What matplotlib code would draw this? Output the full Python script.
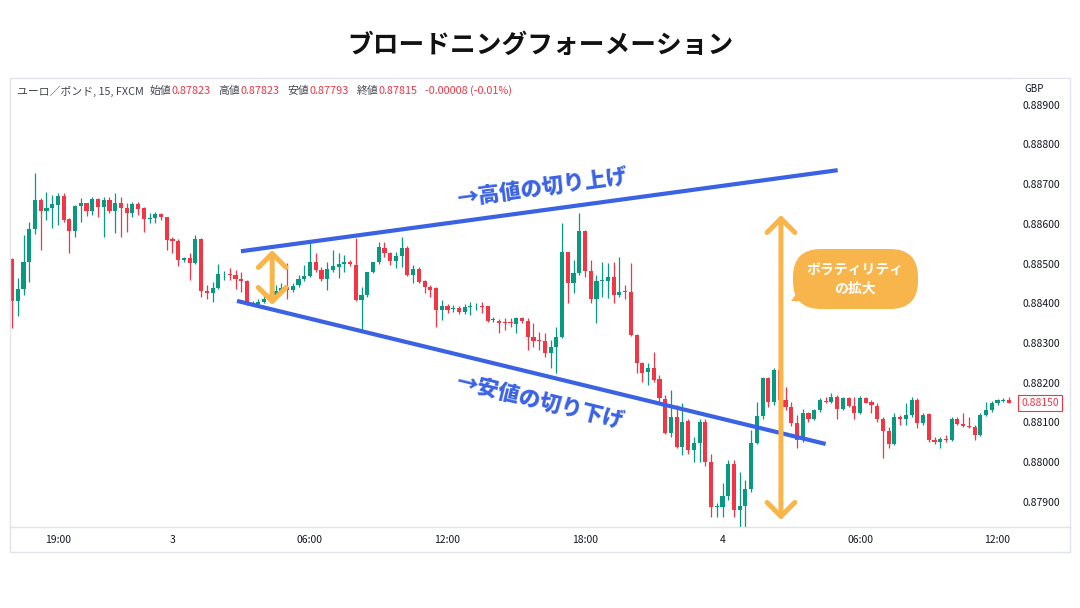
import numpy as np
import matplotlib.pyplot as plt
from matplotlib.patches import Rectangle, FancyBboxPatch, Polygon, FancyArrowPatch
from matplotlib.lines import Line2D
from matplotlib.transforms import Affine2D

plt.rcParams['font.family'] = ['Noto Sans CJK JP', 'DejaVu Sans']

# EUR/GBP 15 min candles, from 17:00 (day 2) to 12:30 (day 4)
opens = [0.88511, 0.88406, 0.88435, 0.88505, 0.88586, 0.88660, 0.88633, 0.88641, 0.88647, 0.88670,
         0.88611, 0.88583, 0.88645, 0.88652, 0.88632, 0.88662, 0.88643, 0.88660, 0.88633, 0.88653,
         0.88639, 0.88626, 0.88649, 0.88639, 0.88611, 0.88615, 0.88624, 0.88616, 0.88561, 0.88557,
         0.88509, 0.88513, 0.88502, 0.88563, 0.88431, 0.88427, 0.88438, 0.88473, 0.88474, 0.88472,
         0.88460, 0.88457, 0.88397, 0.88398, 0.88404, 0.88412, 0.88420, 0.88432, 0.88440, 0.88434,
         0.88446, 0.88460, 0.88469, 0.88505, 0.88484, 0.88461, 0.88484, 0.88492, 0.88498, 0.88503,
         0.88496, 0.88408, 0.88421, 0.88478, 0.88503, 0.88540, 0.88527, 0.88507, 0.88519, 0.88540,
         0.88471, 0.88486, 0.88455, 0.88440, 0.88438, 0.88383, 0.88393, 0.88385, 0.88389, 0.88377,
         0.88390, 0.88392, 0.88394, 0.88392, 0.88357, 0.88356, 0.88354, 0.88354, 0.88348, 0.88362,
         0.88356, 0.88314, 0.88308, 0.88304, 0.88276, 0.88291, 0.88316, 0.88528, 0.88452, 0.88476,
         0.88582, 0.88482, 0.88410, 0.88455, 0.88457, 0.88467, 0.88421, 0.88432, 0.88429, 0.88320,
         0.88249, 0.88228, 0.88236, 0.88209, 0.88159, 0.88073, 0.88115, 0.88039, 0.88105, 0.88031,
         0.88049, 0.88100, 0.88000, 0.87887, 0.87888, 0.87915, 0.87995, 0.87880, 0.87890, 0.87932,
         0.88049, 0.88117, 0.88211, 0.88152, 0.88232, 0.88156, 0.88140, 0.88098, 0.88056, 0.88123,
         0.88110, 0.88131, 0.88155, 0.88151, 0.88165, 0.88133, 0.88161, 0.88142, 0.88123, 0.88161,
         0.88151, 0.88142, 0.88110, 0.88079, 0.88047, 0.88113, 0.88110, 0.88119, 0.88156, 0.88098,
         0.88121, 0.88057, 0.88052, 0.88058, 0.88056, 0.88108, 0.88096, 0.88092, 0.88089, 0.88068,
         0.88119, 0.88131, 0.88148, 0.88155, 0.88156]
highs = [0.88514, 0.88463, 0.88572, 0.88605, 0.88727, 0.88664, 0.88679, 0.88673, 0.88677, 0.88677,
         0.88614, 0.88647, 0.88664, 0.88653, 0.88667, 0.88664, 0.88668, 0.88668, 0.88677, 0.88668,
         0.88653, 0.88656, 0.88656, 0.88643, 0.88626, 0.88631, 0.88628, 0.88618, 0.88566, 0.88563,
         0.88517, 0.88526, 0.88572, 0.88564, 0.88446, 0.88454, 0.88498, 0.88482, 0.88488, 0.88484,
         0.88480, 0.88458, 0.88406, 0.88410, 0.88418, 0.88430, 0.88445, 0.88450, 0.88501, 0.88450,
         0.88471, 0.88496, 0.88551, 0.88526, 0.88492, 0.88505, 0.88534, 0.88526, 0.88522, 0.88510,
         0.88564, 0.88440, 0.88480, 0.88505, 0.88555, 0.88555, 0.88530, 0.88530, 0.88568, 0.88545,
         0.88496, 0.88492, 0.88458, 0.88446, 0.88442, 0.88408, 0.88398, 0.88396, 0.88392, 0.88398,
         0.88404, 0.88402, 0.88404, 0.88394, 0.88365, 0.88360, 0.88362, 0.88362, 0.88366, 0.88366,
         0.88362, 0.88351, 0.88329, 0.88325, 0.88308, 0.88341, 0.88603, 0.88530, 0.88509, 0.88626,
         0.88585, 0.88509, 0.88471, 0.88505, 0.88502, 0.88505, 0.88517, 0.88446, 0.88501, 0.88322,
         0.88252, 0.88249, 0.88278, 0.88220, 0.88169, 0.88182, 0.88144, 0.88148, 0.88108, 0.88064,
         0.88110, 0.88110, 0.88020, 0.87897, 0.87947, 0.88006, 0.88006, 0.87976, 0.87955, 0.88081,
         0.88152, 0.88215, 0.88215, 0.88236, 0.88240, 0.88190, 0.88152, 0.88119, 0.88135, 0.88127,
         0.88135, 0.88161, 0.88165, 0.88173, 0.88169, 0.88165, 0.88165, 0.88165, 0.88166, 0.88163,
         0.88156, 0.88148, 0.88114, 0.88089, 0.88123, 0.88119, 0.88148, 0.88165, 0.88161, 0.88123,
         0.88123, 0.88064, 0.88064, 0.88068, 0.88113, 0.88113, 0.88123, 0.88114, 0.88093, 0.88123,
         0.88152, 0.88155, 0.88158, 0.88161, 0.88163]
lows = [0.88337, 0.88368, 0.88420, 0.88454, 0.88575, 0.88534, 0.88610, 0.88589, 0.88597, 0.88605,
        0.88527, 0.88566, 0.88605, 0.88620, 0.88622, 0.88616, 0.88568, 0.88626, 0.88576, 0.88568,
        0.88580, 0.88618, 0.88622, 0.88580, 0.88601, 0.88601, 0.88610, 0.88534, 0.88526, 0.88494,
        0.88505, 0.88458, 0.88500, 0.88416, 0.88412, 0.88404, 0.88437, 0.88458, 0.88458, 0.88437,
        0.88429, 0.88395, 0.88393, 0.88395, 0.88400, 0.88406, 0.88415, 0.88425, 0.88410, 0.88429,
        0.88442, 0.88455, 0.88465, 0.88480, 0.88455, 0.88434, 0.88480, 0.88463, 0.88480, 0.88495,
        0.88405, 0.88333, 0.88415, 0.88475, 0.88500, 0.88517, 0.88496, 0.88488, 0.88492, 0.88468,
        0.88450, 0.88450, 0.88425, 0.88417, 0.88341, 0.88358, 0.88375, 0.88377, 0.88372, 0.88372,
        0.88371, 0.88383, 0.88375, 0.88354, 0.88354, 0.88325, 0.88333, 0.88340, 0.88325, 0.88350,
        0.88283, 0.88291, 0.88283, 0.88266, 0.88237, 0.88224, 0.88312, 0.88400, 0.88425, 0.88471,
        0.88467, 0.88400, 0.88350, 0.88417, 0.88413, 0.88400, 0.88417, 0.88410, 0.88318, 0.88224,
        0.88203, 0.88194, 0.88203, 0.88148, 0.88070, 0.88064, 0.88035, 0.88018, 0.88021, 0.88001,
        0.88001, 0.87990, 0.87863, 0.87863, 0.87863, 0.87905, 0.87863, 0.87838, 0.87838, 0.87925,
        0.88045, 0.88110, 0.88140, 0.88145, 0.88150, 0.88131, 0.88090, 0.88037, 0.88052, 0.88102,
        0.88106, 0.88127, 0.88150, 0.88150, 0.88110, 0.88131, 0.88140, 0.88110, 0.88121, 0.88148,
        0.88123, 0.88100, 0.88010, 0.88037, 0.88043, 0.88093, 0.88093, 0.88114, 0.88085, 0.88093,
        0.88052, 0.88047, 0.88037, 0.88052, 0.88054, 0.88093, 0.88089, 0.88085, 0.88056, 0.88066,
        0.88116, 0.88127, 0.88144, 0.88152, 0.88148]
closes = [0.88406, 0.88435, 0.88505, 0.88586, 0.88660, 0.88632, 0.88639, 0.88649, 0.88670, 0.88610,
          0.88583, 0.88645, 0.88652, 0.88632, 0.88662, 0.88643, 0.88660, 0.88633, 0.88653, 0.88639,
          0.88626, 0.88649, 0.88637, 0.88611, 0.88615, 0.88624, 0.88616, 0.88559, 0.88557, 0.88509,
          0.88513, 0.88502, 0.88563, 0.88431, 0.88427, 0.88438, 0.88474, 0.88474, 0.88471, 0.88460,
          0.88457, 0.88398, 0.88402, 0.88404, 0.88412, 0.88420, 0.88432, 0.88438, 0.88434, 0.88444,
          0.88461, 0.88469, 0.88505, 0.88484, 0.88461, 0.88486, 0.88494, 0.88498, 0.88503, 0.88499,
          0.88408, 0.88421, 0.88478, 0.88503, 0.88541, 0.88527, 0.88507, 0.88519, 0.88540, 0.88471,
          0.88486, 0.88453, 0.88440, 0.88434, 0.88383, 0.88393, 0.88383, 0.88388, 0.88377, 0.88390,
          0.88392, 0.88394, 0.88390, 0.88356, 0.88360, 0.88351, 0.88351, 0.88350, 0.88362, 0.88356,
          0.88314, 0.88306, 0.88304, 0.88276, 0.88291, 0.88316, 0.88528, 0.88452, 0.88476, 0.88582,
          0.88482, 0.88410, 0.88455, 0.88459, 0.88467, 0.88421, 0.88429, 0.88429, 0.88320, 0.88249,
          0.88225, 0.88236, 0.88207, 0.88161, 0.88073, 0.88115, 0.88039, 0.88102, 0.88031, 0.88049,
          0.88100, 0.88000, 0.87888, 0.87890, 0.87915, 0.87995, 0.87880, 0.87890, 0.87932, 0.88049,
          0.88117, 0.88211, 0.88152, 0.88232, 0.88157, 0.88140, 0.88098, 0.88056, 0.88123, 0.88110,
          0.88131, 0.88156, 0.88151, 0.88165, 0.88133, 0.88161, 0.88142, 0.88123, 0.88161, 0.88150,
          0.88144, 0.88110, 0.88079, 0.88047, 0.88114, 0.88108, 0.88119, 0.88156, 0.88098, 0.88119,
          0.88056, 0.88052, 0.88058, 0.88056, 0.88108, 0.88096, 0.88091, 0.88089, 0.88068, 0.88119,
          0.88131, 0.88148, 0.88156, 0.88157, 0.88150]

time_ticks = [8, 28, 52, 76, 100, 124, 148, 172]
time_labels = ['19:00', '3', '06:00', '12:00', '18:00', '4', '06:00', '12:00']
price_ticks = [0.879, 0.880, 0.881, 0.882, 0.883, 0.884, 0.885, 0.886, 0.887, 0.888, 0.889]
last_price = 0.88150

# legend line: (label, value)
legend_items = [('始値', '0.87823'), ('高値', '0.87823'), ('安値', '0.87793'), ('終値', '0.87815')]
change_text = '-0.00008 (-0.01%)'

# trend lines (candle position, price)
upper_x = [39.95, 144.1]
upper_y = [0.88531, 0.88735]
lower_x = [39.26, 142.0]
lower_y = [0.88406, 0.88046]

GREEN = '#089981'
RED = '#f23645'
BLUE = '#3a62e3'
ORANGE = '#f8b54c'
GRAY = '#434651'

W, H = 1080, 608
fig = plt.figure(figsize=(W / 100, H / 100), dpi=100)
pix = Affine2D().scale(1 / W, -1 / H).translate(0, 1) + fig.transFigure

ax = fig.add_axes([10 / W, 1 - 527 / H, 1003 / W, 449 / H])
ax.set_xlim(-0.36, 174.7)
ax.set_ylim(0.87837, 0.88967)

o = np.array(opens)
h = np.array(highs)
l = np.array(lows)
c = np.array(closes)
x = np.arange(len(o))
col = np.where(c >= o, GREEN, RED)

ax.vlines(x, l, h, colors=col, lw=0.9, zorder=2)
body = np.maximum(np.abs(c - o), 0.000015)
ax.bar(x, body, bottom=np.minimum(o, c), width=0.72, color=col, zorder=3)

ax.plot(upper_x, upper_y, color=BLUE, lw=3, solid_capstyle='butt', zorder=4)
ax.plot(lower_x, lower_y, color=BLUE, lw=3, solid_capstyle='butt', zorder=4)

ax.text(92.6, 0.88690, '→高値の切り上げ', color=BLUE, fontsize=15.5, fontweight='heavy',
        rotation=7.7, rotation_mode='anchor', ha='center', va='center', zorder=5)
ax.text(92.1, 0.88152, '→安値の切り下げ', color=BLUE, fontsize=15.5, fontweight='heavy',
        rotation=-13.6, rotation_mode='anchor', ha='center', va='center', zorder=5)

for xa, y0, y1 in [(45.4, 0.88534, 0.88396), (134.2, 0.88622, 0.87855)]:
    arr = FancyArrowPatch((xa, y0), (xa, y1), arrowstyle='<->,head_length=0.5,head_width=0.5',
                          mutation_scale=20, color=ORANGE, lw=3.6, shrinkA=0, shrinkB=0,
                          capstyle='round', joinstyle='round', zorder=6)
    ax.add_patch(arr)

ax.yaxis.tick_right()
ax.set_yticks(price_ticks, [f'{p:.5f}' for p in price_ticks])
ax.set_xticks(time_ticks, time_labels)
ax.tick_params(axis='both', length=0, labelsize=7.5, labelcolor='#131722')
ax.tick_params(axis='y', pad=7)
ax.tick_params(axis='x', pad=6)
for s in ax.spines.values():
    s.set_visible(False)

ax.text(1.027, last_price, f'{last_price:.5f}', transform=ax.get_yaxis_transform(),
        ha='center', va='center', fontsize=7.5, color=RED,
        bbox=dict(boxstyle='square,pad=0.3', fc='white', ec=RED, lw=0.8))

# frame of the chart
fig.patches.append(Rectangle((10, 78), 1060, 474, transform=pix, fill=False,
                             ec='#e0e3eb', lw=1))
fig.lines.append(Line2D([10, 1070], [527, 527], transform=pix, color='#e0e3eb', lw=1))
fig.patches.append(Rectangle((1014, 79), 55, 22, transform=pix, fc='white', ec='none', zorder=2))
fig.text(1024 / W, 1 - 89 / H, 'GBP', fontsize=7, color='#131722', va='center')

# header legend, laid out left to right
renderer = fig.canvas.get_renderer()
cursor = 17


def put(txt, color, gap):
    global cursor
    t = fig.text(cursor / W, 1 - 91 / H, txt, fontsize=7.8, color=color, va='center')
    cursor += t.get_window_extent(renderer).width + gap


put('ユーロ／ポンド, 15, FXCM', GRAY, 6)
for lab, val in legend_items:
    put(lab, GRAY, 0)
    put(val, RED, 8)
put(change_text, RED, 0)

# speech bubble
fig.patches.append(FancyBboxPatch((793, 249), 125, 60, boxstyle='round,pad=0,rounding_size=28',
                                  transform=pix, fc=ORANGE, ec='none', zorder=5))
fig.patches.append(Polygon([(791, 301), (806, 280), (816, 302)], closed=True, transform=pix,
                           fc=ORANGE, ec='none', zorder=5))
fig.text(855 / W, 1 - 270 / H, 'ボラティリティ', color='white', fontsize=10, fontweight='bold',
         ha='center', va='center', zorder=6)
fig.text(855 / W, 1 - 289 / H, 'の拡大', color='white', fontsize=10, fontweight='bold',
         ha='center', va='center', zorder=6)

fig.text(0.5, 1 - 45 / H, 'ブロードニングフォーメーション', fontsize=18.5, fontweight='bold',
         ha='center', va='center', color='#111111')

fig.savefig('out.png', dpi=100)
